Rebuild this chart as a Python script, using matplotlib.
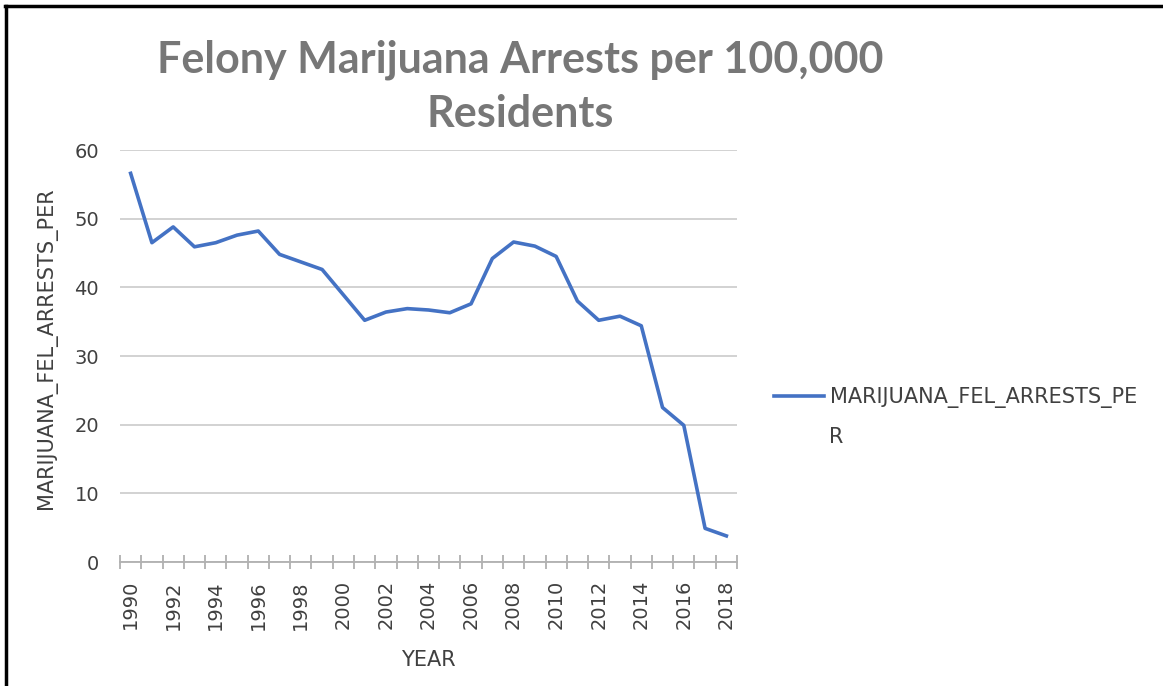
import matplotlib
matplotlib.use("Agg")
import matplotlib.pyplot as plt
from matplotlib.lines import Line2D
import numpy as np

years = list(range(1990, 2019))
arrests_per_100k = [56.6, 46.5, 48.8, 45.9, 46.5, 47.6, 48.2, 44.8, 43.7, 42.6,
                    38.9, 35.2, 36.4, 36.9, 36.7, 36.3, 37.6, 44.2, 46.6, 46.0,
                    44.5, 38.0, 35.2, 35.8, 34.4, 22.5, 19.9, 4.9, 3.8]
year_labels = [str(y) for y in years if y % 2 == 0]
y_ticks = [0, 10, 20, 30, 40, 50, 60]
title = "Felony Marijuana Arrests per 100,000\nResidents"
series_name_lines = ["MARIJUANA_FEL_ARRESTS_PE", "R"]
y_label = "MARIJUANA_FEL_ARRESTS_PER"
x_label = "YEAR"

W, H = 1163, 686
fig = plt.figure(figsize=(W / 100, H / 100), dpi=100)
fig.patch.set_facecolor("white")

left, right, top, bottom = 120, 737, 150, 562
ax = fig.add_axes([left / W, 1 - bottom / H, (right - left) / W, (bottom - top) / H])

text_color = "#404040"
ax.plot(years, arrests_per_100k, color="#4472C4", lw=2.6, solid_joinstyle="round",
        label=series_name_lines[0], zorder=3)

ax.set_xlim(years[0] - 0.5, years[-1] + 0.5)
ax.set_ylim(0, 60)
ax.set_yticks(y_ticks)
ax.yaxis.grid(True, color="#cfcfcf", lw=1.3)
ax.set_axisbelow(True)
for s in ["top", "right", "left"]:
    ax.spines[s].set_visible(False)
ax.spines["bottom"].set_color("#b0b0b0")
ax.spines["bottom"].set_linewidth(1.3)

ax.set_xticks([y for y in years if y % 2 == 0])
ax.set_xticklabels(year_labels, rotation=90)
ax.set_xticks(np.arange(years[0] - 0.5, years[-1] + 1.0, 1.0), minor=True)
ax.tick_params(axis="x", which="major", length=0, pad=13, labelsize=14, labelcolor=text_color)
ax.tick_params(axis="x", which="minor", length=10, direction="inout", color="#b0b0b0", width=1.3)
ax.tick_params(axis="y", length=0, pad=15, labelsize=14, labelcolor=text_color)

fig.text(428 / W, 1 - 660 / H, x_label, ha="center", va="center", fontsize=15, color=text_color)
fig.text(47 / W, 1 - 348 / H, y_label, ha="center", va="center", rotation=90,
         fontsize=15, color=text_color)

fig.text(520 / W, 1 - 60 / H, title.split("\n")[0], ha="center", va="center", fontsize=31,
         fontweight="bold", family="Lato", color="#777777")
fig.text(520 / W, 1 - 114 / H, title.split("\n")[1], ha="center", va="center", fontsize=31,
         fontweight="bold", family="Lato", color="#777777")

leg = ax.legend(loc="center left", bbox_to_anchor=(774 / W, 1 - 398 / H),
                bbox_transform=fig.transFigure, frameon=False, fontsize=15,
                handlelength=2.4, handletextpad=0.3, borderpad=0, borderaxespad=0)
for t in leg.get_texts():
    t.set_color(text_color)
fig.text(829 / W, 1 - 437 / H, series_name_lines[1], ha="left", va="center",
         fontsize=15, color=text_color)

fig.add_artist(Line2D([5 / W, 1], [1 - 6 / H, 1 - 6 / H], color="black", lw=2.5,
                      transform=fig.transFigure))
fig.add_artist(Line2D([6 / W, 6 / W], [0, 1 - 6 / H], color="black", lw=2.5,
                      transform=fig.transFigure))

fig.savefig("out.png", dpi=100)
